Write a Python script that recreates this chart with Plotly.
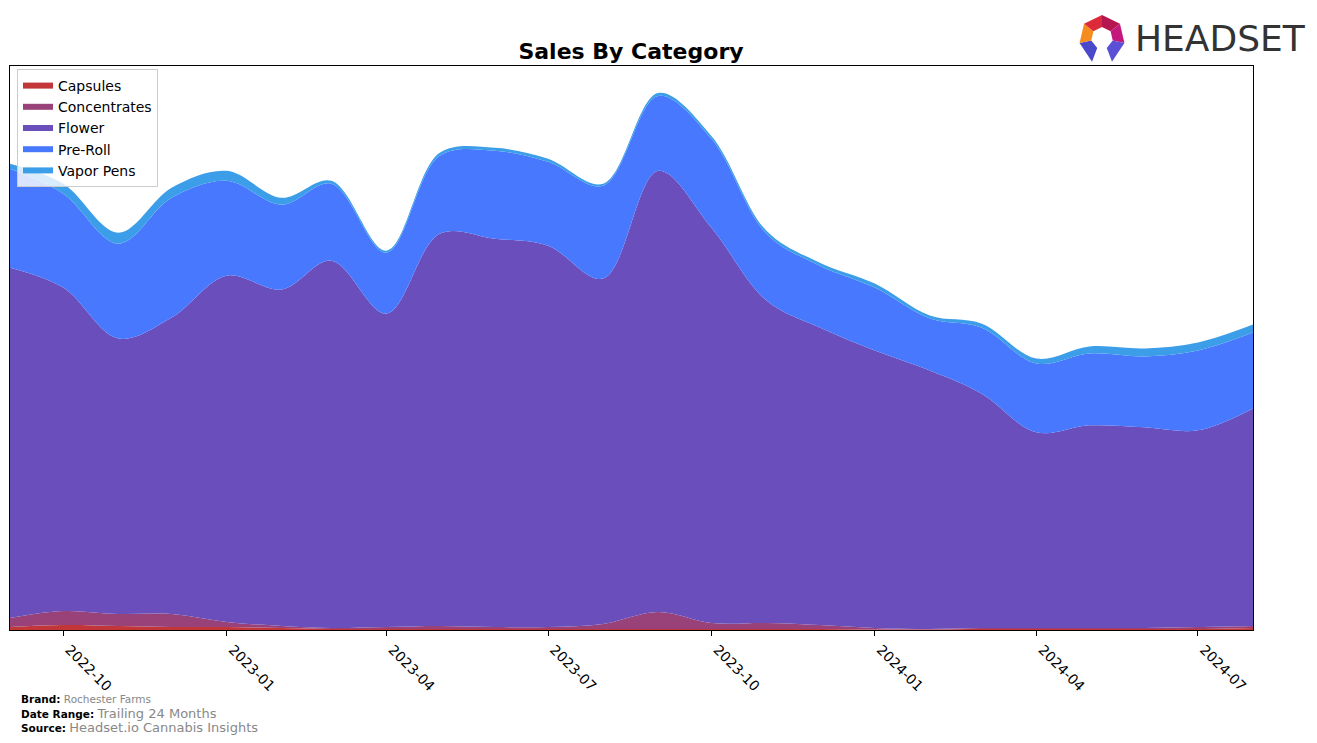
import plotly.graph_objects as go
import math

months = ["2022-09-01","2022-10-01","2022-11-01","2022-12-01","2023-01-01","2023-02-01",
          "2023-03-01","2023-04-01","2023-05-01","2023-06-01","2023-07-01","2023-08-01",
          "2023-09-01","2023-10-01","2023-11-01","2023-12-01","2024-01-01","2024-02-01",
          "2024-03-01","2024-04-01","2024-05-01","2024-06-01","2024-07-01","2024-08-01"]

capsules = [3,5,4,3,3,2,1,1,1,1,1,1,1,1,1,1,0.5,0.5,1,1,1,1,1,2]
concentrates = [9,14,12,13,5,2,1,2,3,2,2,5,17,6,6,4,1.5,0.5,1,1,1,1,2,2]
flower = [351,324,276,297,347,337,368,314,393,389,382,346,442,396,323,298,278,259,235,196,203,201,197,218]
preroll = [99,94,95,120,95,85,77,61,78,88,84,93,75,89,67,62,63,52,66,69,72,71,80,76]
vapor = [5,10,11,10,10,7,3,2,3,3,3,2,3,3,3,3,4,3,4,5,7,8,8,8]

series = [("Capsules", capsules, "#c23538"),
          ("Concentrates", concentrates, "#984279"),
          ("Flower", flower, "#6a4fbc"),
          ("Pre-Roll", preroll, "#4878fe"),
          ("Vapor Pens", vapor, "#3c9ee8")]

tick_vals = ["2022-10-01","2023-01-01","2023-04-01","2023-07-01","2023-10-01",
             "2024-01-01","2024-04-01","2024-07-01"]

fig = go.Figure()
for name, vals, col in series:
    fig.add_trace(go.Scatter(
        x=months, y=vals, name=name, mode="none", stackgroup="one",
        line=dict(width=0, color=col, shape="spline", smoothing=1.0),
        fillcolor=col))

W, H = 1317, 743
L, R, T, B = 10, 1253, 66, 630

def px(x):
    return (x - L) / (R - L)

def py(y):
    return (B - y) / (B - T)

# logo
cx, cy = 1102, 38
ro, ri = 23, 11
angles = [i * 360 / 7 for i in range(7)]
cols = ["#b5164f", "#c4197c", "#5b4fd6", None, "#4a49c9", "#f68b1f", "#dd2a3a"]
shapes = []
for i in range(7):
    if cols[i] is None:
        continue
    a0 = math.radians(angles[i]); a1 = math.radians(angles[(i + 1) % 7] if i < 6 else 360)
    pts = [(cx + ro * math.sin(a0), cy - ro * math.cos(a0)),
           (cx + ro * math.sin(a1), cy - ro * math.cos(a1)),
           (cx + ri * math.sin(a1), cy - ri * math.cos(a1)),
           (cx + ri * math.sin(a0), cy - ri * math.cos(a0))]
    if i == 2:
        pts[1] = (pts[1][0], pts[1][1] + 3)
    if i == 4:
        pts[0] = (pts[0][0], pts[0][1] + 3)
    path = "M " + " L ".join(f"{px(x):.5f},{py(y):.5f}" for x, y in pts) + " Z"
    shapes.append(dict(type="path", xref="paper", yref="paper", path=path,
                       fillcolor=cols[i], line=dict(width=0), layer="above"))

fig.update_layout(
    width=W, height=H,
    margin=dict(l=L, r=W - R, t=T, b=H - B),
    paper_bgcolor="white", plot_bgcolor="white",
    font=dict(family="DejaVu Sans", color="black"),
    title=dict(text="<b>Sales By Category</b>", x=px(631), xref="paper", xanchor="center",
               y=1 - 51 / H, yanchor="middle", font=dict(size=22, color="black")),
    showlegend=True,
    legend=dict(x=px(17), y=py(69), xanchor="left", yanchor="top",
                traceorder="normal", bgcolor="rgba(255,255,255,0.8)",
                bordercolor="#cccccc", borderwidth=1,
                font=dict(size=14, color="black"), itemwidth=30,
                tracegroupgap=0),
    xaxis=dict(type="date", range=[months[0], months[-1]],
               tickvals=tick_vals, tickformat="%Y-%m", tickangle=45,
               ticks="outside", ticklen=5, tickcolor="black",
               ticklabelshift=6,
               tickfont=dict(size=14, color="black"),
               showgrid=False, zeroline=False,
               showline=True, linecolor="black", linewidth=1, mirror=True),
    yaxis=dict(range=[0, 565], showticklabels=False, ticks="", showgrid=False,
               zeroline=False, showline=True, linecolor="black", linewidth=1, mirror=True),
    shapes=shapes,
    annotations=[
        dict(text="HEADSET", xref="paper", yref="paper", x=px(1133), y=py(38),
             xanchor="left", yanchor="middle", showarrow=False,
             font=dict(family="DejaVu Sans", size=36, color="#333333")),
        dict(text="<b>Brand:</b> <span style='color:#888888'>Rochester Farms</span>",
             xref="paper", yref="paper", x=px(19), y=py(699), xanchor="left", yanchor="middle",
             showarrow=False, font=dict(size=10.5, color="black")),
        dict(text="<b>Date Range:</b> <span style='color:#888888;font-size:13px'>Trailing 24 Months</span>",
             xref="paper", yref="paper", x=px(19), y=py(713), xanchor="left", yanchor="middle",
             showarrow=False, font=dict(size=10.5, color="black")),
        dict(text="<b>Source:</b> <span style='color:#888888;font-size:13px'>Headset.io Cannabis Insights</span>",
             xref="paper", yref="paper", x=px(19), y=py(727), xanchor="left", yanchor="middle",
             showarrow=False, font=dict(size=10.5, color="black")),
    ],
)

fig.write_html("out.html")
